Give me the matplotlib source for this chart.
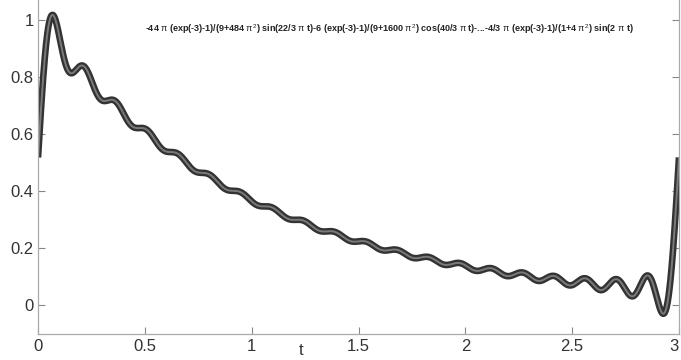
import numpy as np
import matplotlib.pyplot as plt

# Fourier partial sum of exp(-t) over one period [0, 3], harmonics 0..20
period = 3.0
harmonics = np.arange(0, 21)
t_range = [0.0, 3.0]

title_str = (r"-44 $\pi$ (exp(-3)-1)/(9+484 $\pi^2$) sin(22/3 $\pi$ t)"
             r"-6 (exp(-3)-1)/(9+1600 $\pi^2$) cos(40/3 $\pi$ t)-..."
             r"-4/3 $\pi$ (exp(-3)-1)/(1+4 $\pi^2$) sin(2 $\pi$ t)")

xticks = [0, 0.5, 1, 1.5, 2, 2.5, 3]
yticks = [0, 0.2, 0.4, 0.6, 0.8, 1]

plt.rcParams['font.family'] = ['Liberation Sans', 'DejaVu Sans']
plt.rcParams['mathtext.fontset'] = 'custom'
plt.rcParams['mathtext.rm'] = 'Liberation Sans'
plt.rcParams['mathtext.it'] = 'Liberation Sans'


def fourier_sum(t, ns):
    c = 1 - np.exp(-3)
    w = 2 * np.pi * ns / period
    a = 6 * c / (9 + 4 * np.pi**2 * ns**2)
    b = 4 * np.pi * ns * c / (9 + 4 * np.pi**2 * ns**2)
    a[0] = a[0] / 2
    return (a[:, None] * np.cos(np.outer(w, t)) +
            b[:, None] * np.sin(np.outer(w, t))).sum(axis=0)


t = np.linspace(t_range[0], t_range[1], 1500)
y = fourier_sum(t, harmonics)

fig = plt.figure(figsize=(6.81, 3.6), dpi=100)
ax = fig.add_axes([38 / 681, 0.0736, 641 / 681, 0.934])

ax.plot(t, y, color='#333333', lw=4.8, solid_capstyle='butt')
ax.plot(t, y, color='#7a7a7a', lw=1.4, solid_capstyle='butt')

ax.set_xlim(0, 3)
ax.set_ylim(-0.1, 1.08)
ax.set_xticks(xticks)
ax.set_xticklabels(['0', '0.5', '1', '1.5', '2', '2.5', '3'])
ax.set_yticks(yticks)
ax.set_yticklabels(['0', '0.2', '0.4', '0.6', '0.8', '1'])

ax.tick_params(direction='in', length=5, width=0.8, color='#888888',
               labelsize=12, labelcolor='#333333', right=True, pad=3)
ax.tick_params(axis='x', pad=4)
# last x label sits at the right edge; keep it inside the figure
ax.get_xticklabels()[-1].set_horizontalalignment('right')

ax.spines['top'].set_visible(False)
for side in ['left', 'bottom', 'right']:
    ax.spines[side].set_color('#aaaaaa')
    ax.spines[side].set_linewidth(0.9)

ax.text(0.41, -0.028, 't', transform=ax.transAxes, fontsize=12,
        color='#333333', ha='center', va='top')
ax.text(0.548, 0.905, title_str, transform=ax.transAxes, fontsize=6.5,
        color='#222222', ha='center', va='center', fontweight='bold')

fig.savefig('out.png', dpi=100)
